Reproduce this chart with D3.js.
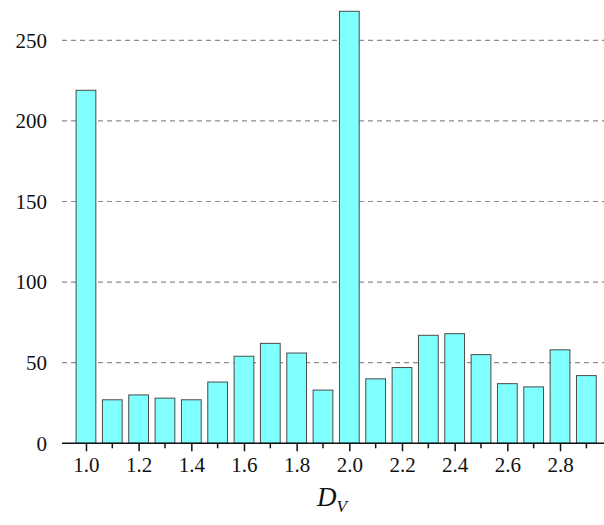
<!DOCTYPE html>
<html>
<head>
<meta charset="utf-8">
<script src="https://cdn.jsdelivr.net/npm/d3@7"></script>
<style>
  body { margin: 0; background: #fff; }
  svg { display: block; }
  text { font-family: "Times New Roman", "Liberation Serif", "DejaVu Serif", serif; }
</style>
</head>
<body>
<svg id="chart" width="604" height="525"></svg>
<script>
// bin centres and counts
const bins = [1.0, 1.1, 1.2, 1.3, 1.4, 1.5, 1.6, 1.7, 1.8, 1.9, 2.0, 2.1, 2.2, 2.3, 2.4, 2.5, 2.6, 2.7, 2.8, 2.9];
const counts = [219, 27, 30, 28, 27, 38, 54, 62, 56, 33, 268, 40, 47, 67, 68, 55, 37, 35, 58, 42];
const yTicks = [0, 50, 100, 150, 200, 250];
const xMajor = [1.0, 1.2, 1.4, 1.6, 1.8, 2.0, 2.2, 2.4, 2.6, 2.8];
const xMinor = [1.1, 1.3, 1.5, 1.7, 1.9, 2.1, 2.3, 2.5, 2.7, 2.9];

const serif = '"Times New Roman", "Liberation Serif", "DejaVu Serif", serif';
const svg = d3.select('#chart');
const left = 62, right = 604, bottom = 443.3;

const x = d3.scaleLinear().domain([0.909, 2.967]).range([left, right]);
const y = d3.scaleLinear().domain([0, 275]).range([bottom, 0]);
const barW = x(1.075) - x(1.0);

// dashed grid lines
svg.append('g')
    .selectAll('line')
    .data(yTicks.filter(d => d > 0))
    .enter()
    .append('line')
    .attr('x1', left)
    .attr('x2', right)
    .attr('y1', d => y(d))
    .attr('y2', d => y(d))
    .attr('stroke', '#8c8c8c')
    .attr('stroke-width', 1.2)
    .attr('stroke-dasharray', '5,4');

// bars
svg.append('g')
    .selectAll('rect')
    .data(bins)
    .enter()
    .append('rect')
    .attr('x', d => x(d) - barW / 2)
    .attr('width', barW)
    .attr('y', (d, i) => y(counts[i]))
    .attr('height', (d, i) => bottom - y(counts[i]))
    .attr('fill', '#80ffff')
    .attr('stroke', '#4a4a4a')
    .attr('stroke-width', 1);

// y tick labels (no axis line)
svg.append('g')
    .selectAll('text')
    .data(yTicks)
    .enter()
    .append('text')
    .attr('x', 47)
    .attr('y', d => y(d))
    .attr('dy', '0.35em')
    .attr('text-anchor', 'end')
    .attr('font-family', serif)
    .attr('font-size', 21)
    .attr('fill', '#111')
    .text(d => d);

// x axis
const xAxis = d3.axisBottom(x)
    .tickValues(xMajor)
    .tickFormat(d3.format('.1f'))
    .tickSize(8)
    .tickPadding(6);
const gx = svg.append('g')
    .attr('transform', `translate(0,${bottom})`)
    .call(xAxis)
    .attr('font-family', serif)
    .attr('font-size', 21);
gx.select('.domain').remove();
gx.selectAll('.tick line').attr('stroke', '#111').attr('stroke-width', 1.5);
gx.selectAll('.tick text').attr('fill', '#111');

gx.append('line')
    .attr('x1', left)
    .attr('x2', right)
    .attr('stroke', '#111')
    .attr('stroke-width', 1.6);

gx.append('g')
    .selectAll('line')
    .data(xMinor)
    .enter()
    .append('line')
    .attr('x1', d => x(d))
    .attr('x2', d => x(d))
    .attr('y1', 0)
    .attr('y2', 5)
    .attr('stroke', '#111')
    .attr('stroke-width', 1.5);

// axis title
const title = svg.append('text')
    .attr('x', 317)
    .attr('y', 506)
    .attr('font-family', serif)
    .attr('font-style', 'italic')
    .attr('font-size', 27)
    .attr('fill', '#111');
title.append('tspan').text('D');
title.append('tspan').attr('font-size', 17).attr('dy', 6).text('V');
</script>
</body>
</html>
